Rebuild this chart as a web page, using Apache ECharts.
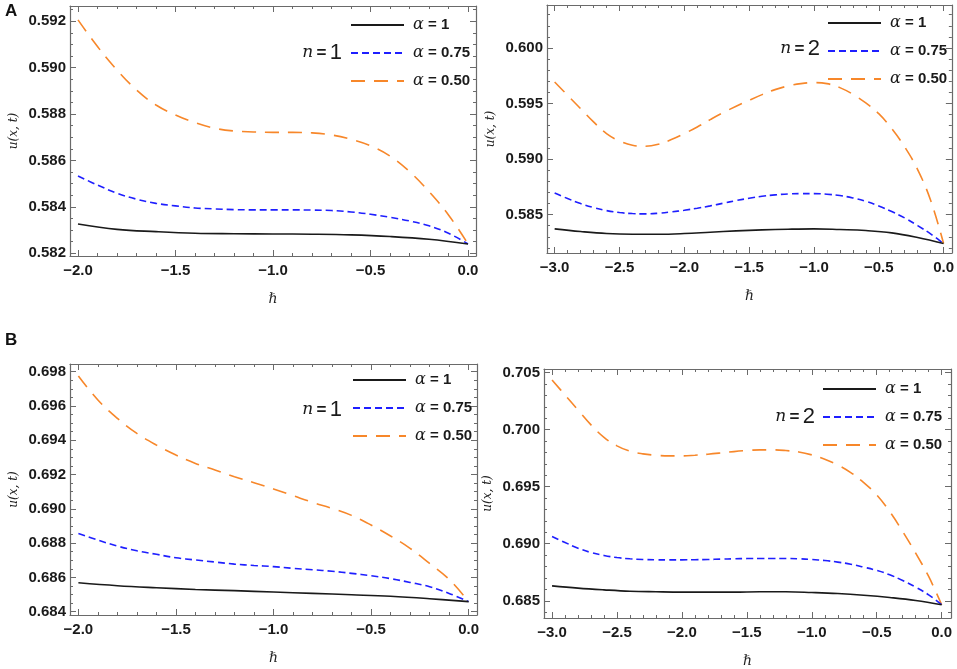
<!DOCTYPE html>
<html><head><meta charset="utf-8">
<script src="https://cdn.jsdelivr.net/npm/echarts@6/dist/echarts.min.js"></script>
<style>html,body{margin:0;padding:0;background:#fff}#c{width:957px;height:669px}</style>
</head><body><div id="c"></div>
<script>
// ---- x values ----
const h2Fine = [-2.0,-1.9,-1.8,-1.7,-1.6,-1.5,-1.4,-1.3,-1.2,-1.1,-1.0,-0.9,-0.8,-0.7,-0.6,-0.5,-0.4,-0.3,-0.2,-0.1,0.0];
const h2Coarse = [-2.0,-1.8,-1.6,-1.4,-1.2,-1.0,-0.8,-0.6,-0.4,-0.2,0.0];
const h3Fine = [-3.0,-2.9,-2.8,-2.7,-2.6,-2.5,-2.4,-2.3,-2.2,-2.1,-2.0,-1.9,-1.8,-1.7,-1.6,-1.5,-1.4,-1.3,-1.2,-1.1,-1.0,-0.9,-0.8,-0.7,-0.6,-0.5,-0.4,-0.3,-0.2,-0.1,0.0];
const h3Coarse = [-3.0,-2.8,-2.6,-2.4,-2.2,-2.0,-1.8,-1.6,-1.4,-1.2,-1.0,-0.8,-0.6,-0.4,-0.2,0.0];

// ---- Panel A (n=1) ----
const A_a1   = [0.58326,0.58303,0.58293,0.58286,0.58284,0.58283,0.58282,0.58279,0.58272,0.58260,0.58240];
const A_a075 = [0.58533,0.58494,0.58459,0.58433,0.58415,0.58404,0.58395,0.58391,0.58388,0.58387,0.58387,0.58387,0.58386,0.58384,0.58378,0.58368,0.58355,0.58339,0.58318,0.58286,0.58240];
const A_a050 = [0.59206,0.59091,0.58990,0.58904,0.58839,0.58796,0.58763,0.58739,0.58727,0.58723,0.58721,0.58721,0.58719,0.58710,0.58691,0.58663,0.58619,0.58552,0.58466,0.58365,0.58240];
// ---- Panel A (n=2) ----
const B_a1   = [0.58371,0.58347,0.58329,0.58323,0.58323,0.58329,0.58341,0.58353,0.58362,0.58368,0.58371,0.58365,0.58356,0.58335,0.58293,0.58239];
const B_a075 = [0.58695,0.58644,0.58599,0.58563,0.58536,0.58518,0.58509,0.58506,0.58512,0.58524,0.58539,0.58557,0.58578,0.58602,0.58626,0.58647,0.58665,0.58677,0.58686,0.58689,0.58689,0.58683,0.58671,0.58650,0.58620,0.58578,0.58527,0.58470,0.58401,0.58326,0.58239];
const B_a050 = [0.59694,0.59574,0.59454,0.59334,0.59229,0.59163,0.59124,0.59115,0.59133,0.59175,0.59229,0.59289,0.59355,0.59418,0.59475,0.59529,0.59580,0.59625,0.59658,0.59679,0.59688,0.59679,0.59643,0.59583,0.59505,0.59409,0.59274,0.59109,0.58905,0.58629,0.58239];
// ---- Panel B (n=1) ----
const C_a1   = [0.68569,0.68552,0.68540,0.68530,0.68523,0.68515,0.68507,0.68499,0.68490,0.68476,0.68459];
const C_a075 = [0.68857,0.68818,0.68783,0.68756,0.68735,0.68715,0.68702,0.68690,0.68678,0.68670,0.68663,0.68653,0.68645,0.68636,0.68624,0.68610,0.68593,0.68571,0.68546,0.68507,0.68459];
const C_a050 = [0.69775,0.69635,0.69528,0.69440,0.69372,0.69314,0.69265,0.69227,0.69188,0.69153,0.69116,0.69077,0.69038,0.69003,0.68962,0.68906,0.68842,0.68770,0.68682,0.68589,0.68459];
// ---- Panel B (n=2) ----
const D_a1   = [0.68631,0.68611,0.68596,0.68584,0.68579,0.68576,0.68576,0.68576,0.68579,0.68579,0.68573,0.68564,0.68549,0.68529,0.68503,0.68465];
const D_a075 = [0.69063,0.69011,0.68961,0.68923,0.68897,0.68879,0.68868,0.68862,0.68859,0.68859,0.68859,0.68860,0.68862,0.68865,0.68868,0.68870,0.68871,0.68871,0.68871,0.68868,0.68862,0.68853,0.68839,0.68821,0.68795,0.68766,0.68728,0.68678,0.68620,0.68552,0.68465];
const D_a050 = [0.70436,0.70304,0.70173,0.70042,0.69933,0.69858,0.69811,0.69788,0.69776,0.69770,0.69770,0.69776,0.69785,0.69796,0.69808,0.69817,0.69823,0.69823,0.69817,0.69805,0.69779,0.69741,0.69691,0.69624,0.69536,0.69428,0.69282,0.69107,0.68917,0.68713,0.68465];

// ---- tick labels ----
const xTicks2 = [-2.0,-1.5,-1.0,-0.5,0.0];
const xTicks3 = [-3.0,-2.5,-2.0,-1.5,-1.0,-0.5,0.0];
const yTicksA = [0.582,0.584,0.586,0.588,0.590,0.592];
const yTicksB = [0.585,0.590,0.595,0.600];
const yTicksC = [0.684,0.686,0.688,0.690,0.692,0.694,0.696,0.698];
const yTicksD = [0.685,0.690,0.695,0.700,0.705];
const seriesNames = ['α = 1','α = 0.75','α = 0.50'];
const nLabels = ['1','2','1','2'];

function steps(a, b, s){ const r=[]; const n=Math.round((b-a)/s); for(let i=0;i<=n;i++) r.push(+(a+i*s).toFixed(6)); return r; }

const panels = [
  {grid:{left:70,top:6,width:406,height:250}, x:[-2.041,0.041], y:[0.58188,0.59266], xt:xTicks2, xm:steps(-2,0,0.1), yt:yTicksA, ym:steps(0.582,0.5925,0.0005), data:[[h2Coarse,A_a1],[h2Fine,A_a075],[h2Fine,A_a050]], leg:{left:350,top:17}, n:{x:342,y:51}},
  {grid:{left:547,top:5,width:405,height:248}, x:[-3.059,0.064], y:[0.58154,0.60387], xt:xTicks3, xm:steps(-3,0,0.1), yt:yTicksB, ym:steps(0.582,0.603,0.001), data:[[h3Coarse,B_a1],[h3Fine,B_a075],[h3Fine,B_a050]], leg:{left:827,top:15}, n:{x:820,y:47}},
  {grid:{left:70,top:364,width:407,height:251}, x:[-2.043,0.043], y:[0.68381,0.69845], xt:xTicks2, xm:steps(-2,0,0.1), yt:yTicksC, ym:steps(0.684,0.698,0.0005), data:[[h2Coarse,C_a1],[h2Fine,C_a075],[h2Fine,C_a050]], leg:{left:352,top:372}, n:{x:342,y:408}},
  {grid:{left:544,top:369,width:407,height:249}, x:[-3.062,0.072], y:[0.68349,0.70532], xt:xTicks3, xm:steps(-3,0,0.1), yt:yTicksD, ym:steps(0.684,0.705,0.001), data:[[h3Coarse,D_a1],[h3Fine,D_a075],[h3Fine,D_a050]], leg:{left:822,top:381}, n:{x:815,y:415}}
];

const frameColor = '#6a6a6a';
const labelFont = {fontFamily:'Liberation Sans, Arial, sans-serif', fontSize:15, fontWeight:'bold', color:'#1a1a1a'};
const styles = [
  {color:'#1a1a1a', type:'solid', width:1.6},
  {color:'#1f1fff', type:[7,4], width:1.6},
  {color:'#f7872a', type:[14,9], width:1.6}
];
function fmtX(v){ return (v<0?'\u2212':'') + Math.abs(v).toFixed(1); }

const grids=[], xAxes=[], yAxes=[], series=[], legends=[], graphics=[];
panels.forEach((p,gi)=>{
  grids.push(Object.assign({containLabel:false}, p.grid));
  const base = {type:'value', gridIndex:gi, splitLine:{show:false}};
  // x axes
  const xb = Object.assign({}, base, {min:p.x[0], max:p.x[1]});
  xAxes.push(Object.assign({}, xb, {position:'bottom', axisLine:{show:true,onZero:false,lineStyle:{color:frameColor,width:1.2}},
    axisTick:{show:true,inside:true,length:6,customValues:p.xt,lineStyle:{color:frameColor}},
    axisLabel:Object.assign({show:true,customValues:p.xt,formatter:fmtX,margin:7}, labelFont),
    name:'\u210F', nameLocation:'middle', nameGap:36, nameTextStyle:{fontFamily:'DejaVu Serif, serif', fontStyle:'italic', fontSize:14, color:'#222'}}));
  xAxes.push(Object.assign({}, xb, {position:'bottom', axisLine:{show:false,onZero:false}, axisTick:{show:true,inside:true,length:3,customValues:p.xm,lineStyle:{color:frameColor}}, axisLabel:{show:false}}));
  xAxes.push(Object.assign({}, xb, {position:'top', axisLine:{show:true,onZero:false,lineStyle:{color:frameColor,width:1.2}}, axisTick:{show:true,inside:true,length:6,customValues:p.xt,lineStyle:{color:frameColor}}, axisLabel:{show:false}}));
  xAxes.push(Object.assign({}, xb, {position:'top', axisLine:{show:false,onZero:false}, axisTick:{show:true,inside:true,length:3,customValues:p.xm,lineStyle:{color:frameColor}}, axisLabel:{show:false}}));
  // y axes
  const yb = Object.assign({}, base, {min:p.y[0], max:p.y[1]});
  yAxes.push(Object.assign({}, yb, {position:'left', axisLine:{show:true,onZero:false,lineStyle:{color:frameColor,width:1.2}},
    axisTick:{show:true,inside:true,length:6,customValues:p.yt,lineStyle:{color:frameColor}},
    axisLabel:Object.assign({show:true,customValues:p.yt,formatter:v=>v.toFixed(3),margin:4}, labelFont),
    name:'u(x, t)', nameLocation:'middle', nameGap:50, nameRotate:90, nameTextStyle:{fontFamily:'DejaVu Serif, serif', fontStyle:'italic', fontSize:12, color:'#222'}}));
  yAxes.push(Object.assign({}, yb, {position:'left', axisLine:{show:false,onZero:false}, axisTick:{show:true,inside:true,length:3,customValues:p.ym,lineStyle:{color:frameColor}}, axisLabel:{show:false}}));
  yAxes.push(Object.assign({}, yb, {position:'right', axisLine:{show:true,onZero:false,lineStyle:{color:frameColor,width:1.2}}, axisTick:{show:true,inside:true,length:6,customValues:p.yt,lineStyle:{color:frameColor}}, axisLabel:{show:false}}));
  yAxes.push(Object.assign({}, yb, {position:'right', axisLine:{show:false,onZero:false}, axisTick:{show:true,inside:true,length:3,customValues:p.ym,lineStyle:{color:frameColor}}, axisLabel:{show:false}}));
  p.data.forEach((d,si)=>{
    series.push({type:'line', name:seriesNames[si], xAxisIndex:gi*4, yAxisIndex:gi*4, smooth:0.4, symbol:'none',
      lineStyle:styles[si], itemStyle:{color:styles[si].color}, data:d[0].map((x,i)=>[x,d[1][i]]), z:3-si+2});
  });
  legends.push({orient:'vertical', left:p.leg.left, top:p.leg.top, padding:0, itemWidth:53, itemHeight:14, itemGap:12,
    data:seriesNames, selectedMode:false, itemStyle:{opacity:0},
    formatter:name=>'{a|α}{b|'+name.slice(1)+'}',
    textStyle:{rich:{a:{fontFamily:'DejaVu Serif, serif',fontStyle:'italic',fontSize:16,lineHeight:14,color:'#1a1a1a',padding:[0,0,0,4]},b:{fontFamily:'Liberation Sans, Arial, sans-serif',fontSize:15,lineHeight:14,fontWeight:'bold',color:'#1a1a1a'}}}});
  graphics.push({type:'text', right:957-p.n.x, top:p.n.y-9, style:{
    text:'{n|n} {e|=} {v|'+nLabels[gi]+'}',
    rich:{n:{fontFamily:'DejaVu Serif, serif',fontStyle:'italic',fontSize:17,fill:'#1a1a1a'},
          e:{fontFamily:'Liberation Sans, Arial, sans-serif',fontSize:17,fontWeight:'bold',fill:'#1a1a1a'},
          v:{fontFamily:'Liberation Sans, Arial, sans-serif',fontSize:22,fill:'#1a1a1a'}}}});
});
graphics.push({type:'text', left:5, top:3, style:{text:'A', font:'bold 17px Liberation Sans, Arial, sans-serif', fill:'#111'}});
graphics.push({type:'text', left:5, top:332, style:{text:'B', font:'bold 17px Liberation Sans, Arial, sans-serif', fill:'#111'}});

const chart = echarts.init(document.getElementById('c'), null, {renderer:'canvas'});
chart.setOption({animation:false, backgroundColor:'#fff', grid:grids, xAxis:xAxes, yAxis:yAxes, series:series, legend:legends, graphic:graphics});
</script></body></html>
